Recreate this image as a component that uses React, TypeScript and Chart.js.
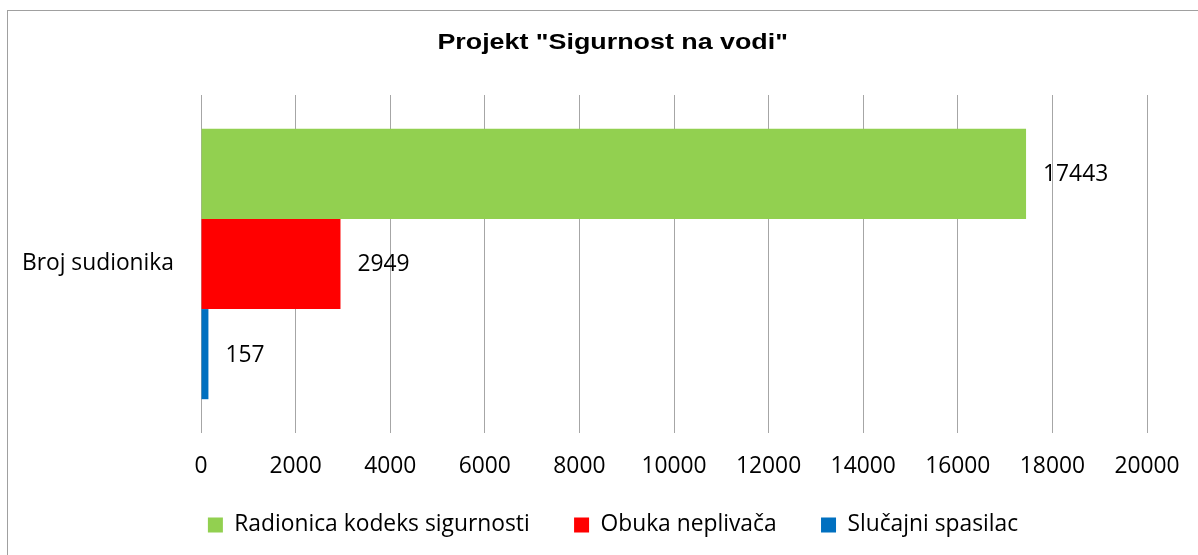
import React, { useEffect, useRef } from "react";
import { Chart, registerables } from "chart.js";

Chart.register(...registerables);

const categories = ["Broj sudionika"];
const seriesNames = ["Radionica kodeks sigurnosti", "Obuka neplivača", "Slučajni spasilac"];
const radionica = [17443];
const obuka = [2949];
const spasilac = [157];
const seriesColors = ["#92D050", "#FF0000", "#0070C0"];
const xMin = 0;
const xMax = 20000;
const xStep = 2000;
const title = 'Projekt "Sigurnost na vodi"';

const FONT = "'Open Sans', 'Noto Sans', sans-serif";
const FS = 22.8;

const valueLabels = {
  id: "valueLabels",
  afterDatasetsDraw(chart: any) {
    const ctx = chart.ctx;
    ctx.save();
    ctx.font = `${FS}px ${FONT}`;
    ctx.fillStyle = "#000";
    ctx.textAlign = "left";
    ctx.textBaseline = "middle";
    chart.data.datasets.forEach((ds: any, i: number) => {
      const meta = chart.getDatasetMeta(i);
      meta.data.forEach((bar: any, j: number) => {
        ctx.fillText(String(ds.data[j]), bar.x + 17, bar.y + 1);
      });
    });
    ctx.restore();
  },
};

export default function App() {
  const ref = useRef<HTMLCanvasElement | null>(null);
  useEffect(() => {
    if (!ref.current) return;
    const chart = new Chart(ref.current, {
      type: "bar",
      data: {
        labels: categories,
        datasets: [radionica, obuka, spasilac].map((d, i) => ({
          label: seriesNames[i],
          data: d,
          backgroundColor: seriesColors[i],
          borderWidth: 0,
          categoryPercentage: 0.8,
          barPercentage: 1,
        })),
      },
      options: {
        indexAxis: "y",
        responsive: false,
        animation: false,
        layout: { padding: { top: 95, right: 0, bottom: 8.6, left: 0 } },
        scales: {
          x: {
            min: xMin,
            max: xMax,
            ticks: {
              stepSize: xStep,
              padding: 20.3,
              color: "#000",
              font: { family: FONT, size: FS },
              maxRotation: 0,
              callback: (v: any) => String(v),
            },
            grid: { color: "#a6a6a6", lineWidth: 1, drawTicks: false },
            border: { display: false },
            afterFit: (s: any) => {
              s.height = 48;
            },
          },
          y: {
            ticks: {
              padding: 27,
              color: "#000",
              font: { family: FONT, size: FS },
            },
            grid: { display: false, drawTicks: false },
            border: { display: false },
            afterFit: (s: any) => {
              s.width = 201;
            },
          },
          yRight: {
            type: "category",
            position: "right",
            ticks: { display: false },
            grid: { display: false, drawTicks: false },
            border: { display: false },
            afterFit: (s: any) => {
              s.width = 79;
            },
          },
        },
        plugins: {
          title: { display: false },
          tooltip: { enabled: false },
          legend: {
            position: "bottom",
            labels: {
              boxWidth: 15,
              boxHeight: 15,
              padding: 32.6,
              color: "#000",
              font: { family: FONT, size: FS },
              generateLabels: (c: any) => {
                const items = Chart.defaults.plugins.legend.labels.generateLabels(c);
                return items.map((it: any, i: number) =>
                  i < items.length - 1 ? { ...it, text: it.text + "\u00A0\u00A0" } : it
                );
              },
            },
          },
        },
      },
      plugins: [valueLabels],
    });
    return () => chart.destroy();
  }, []);

  return (
    <div style={{ position: "fixed", left: 0, top: 0, width: 1198, height: 555, background: "#fff", overflow: "hidden" }}>
      <div
        style={{
          position: "absolute",
          left: 7,
          top: 10,
          width: 1300,
          height: 700,
          borderTop: "1px solid #a0a0a0",
          borderLeft: "1px solid #a0a0a0",
        }}
      />
      <canvas ref={ref} width={1226} height={555} style={{ position: "absolute", left: 0, top: 0 }} />
      <div
        style={{
          position: "absolute",
          left: 0,
          width: 1226,
          top: 29,
          textAlign: "center",
          lineHeight: "26px",
        }}
      >
        <span
          style={{
            display: "inline-block",
            font: "bold 22px 'Liberation Sans', Arial, sans-serif",
            color: "#000",
            transform: "scaleX(1.22)",
            transformOrigin: "center",
          }}
        >
          {title}
        </span>
      </div>
    </div>
  );
}
